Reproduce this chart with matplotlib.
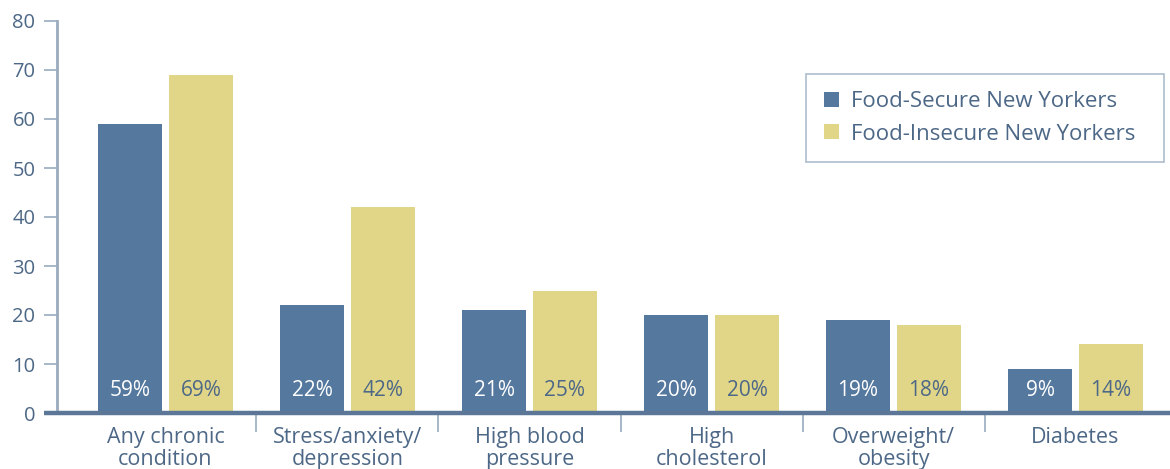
import matplotlib
matplotlib.use("Agg")
import matplotlib.pyplot as plt
import matplotlib.transforms as mtransforms
from matplotlib.patches import Patch
import numpy as np

categories = ["Any chronic\ncondition", "Stress/anxiety/\ndepression", "High blood\npressure",
              "High\ncholesterol", "Overweight/\nobesity", "Diabetes"]
food_secure = [59, 22, 21, 20, 19, 9]
food_insecure = [69, 42, 25, 20, 18, 14]
series_names = ["Food-Secure New Yorkers", "Food-Insecure New Yorkers"]
y_ticks = [0, 10, 20, 30, 40, 50, 60, 70, 80]

BLUE = "#55789f"
YELLOW = "#e1d687"
TEXT = "#4d6887"
AXIS = "#5b7696"
LIGHT = "#9aabbf"

plt.rcParams["font.family"] = ["Open Sans", "DejaVu Sans"]

W, H = 1170, 469
fig = plt.figure(figsize=(W / 100, H / 100), dpi=100)
ax = fig.add_axes([57 / W, 1 - 413 / H, 1 - 57 / W, (413 - 21) / H])

x = np.arange(len(categories))
bw = 0.352
off = 0.195
b1 = ax.bar(x - off, food_secure, bw, color=BLUE, zorder=2)
b2 = ax.bar(x + off, food_insecure, bw, color=YELLOW, zorder=2)

for rect, v in zip(b1, food_secure):
    ax.text(rect.get_x() + rect.get_width() / 2, 4.6, f"{v}%", ha="center", va="center",
            color="white", fontsize=15, zorder=3)
for rect, v in zip(b2, food_insecure):
    ax.text(rect.get_x() + rect.get_width() / 2, 4.6, f"{v}%", ha="center", va="center",
            color=TEXT, fontsize=15, zorder=3)

ax.set_xlim(-0.596, 5.519)
ax.set_ylim(0, 80)

for s in ["top", "right", "bottom"]:
    ax.spines[s].set_visible(False)
ax.spines["left"].set_color(LIGHT)
ax.spines["left"].set_linewidth(2)

# thick baseline extending slightly left of the y-axis
trans = mtransforms.blended_transform_factory(ax.transAxes, ax.transData)
ax.plot([-13 / (W - 57), 1], [0, 0], transform=trans, color=AXIS, lw=3.2,
        clip_on=False, zorder=4, solid_capstyle="butt")

ax.set_yticks(y_ticks)
ax.tick_params(axis="y", direction="out", length=9.5, width=1.2, color=LIGHT,
               labelcolor=TEXT, labelsize=14.5, pad=6)

ax.set_xticks(x)
ax.set_xticklabels(categories)
ax.tick_params(axis="x", which="major", length=0, labelcolor=TEXT, labelsize=15.5, pad=10)
ax.set_xticks(x[:-1] + 0.5, minor=True)
ax.tick_params(axis="x", which="minor", direction="out", length=14, width=1.2, color=LIGHT)
for lbl in ax.get_xticklabels():
    lbl.set_linespacing(1.1)

handles = [Patch(facecolor=BLUE), Patch(facecolor=YELLOW)]
x0 = (806 - 57) / (W - 57)
w = (1164 - 806) / (W - 57)
y0 = (413 - 161) / 392
h = (161 - 75) / 392
leg = ax.legend(handles, series_names, loc="center", bbox_to_anchor=(x0, y0, w, h),
                mode="expand", fontsize=16, frameon=True, fancybox=False,
                handlelength=0.68, handleheight=0.68, handletextpad=0.55,
                borderpad=0.8, labelspacing=0.5, labelcolor=TEXT, borderaxespad=0)
leg.get_frame().set_edgecolor(LIGHT)
leg.get_frame().set_linewidth(1.2)

fig.savefig("out.png", dpi=100)
